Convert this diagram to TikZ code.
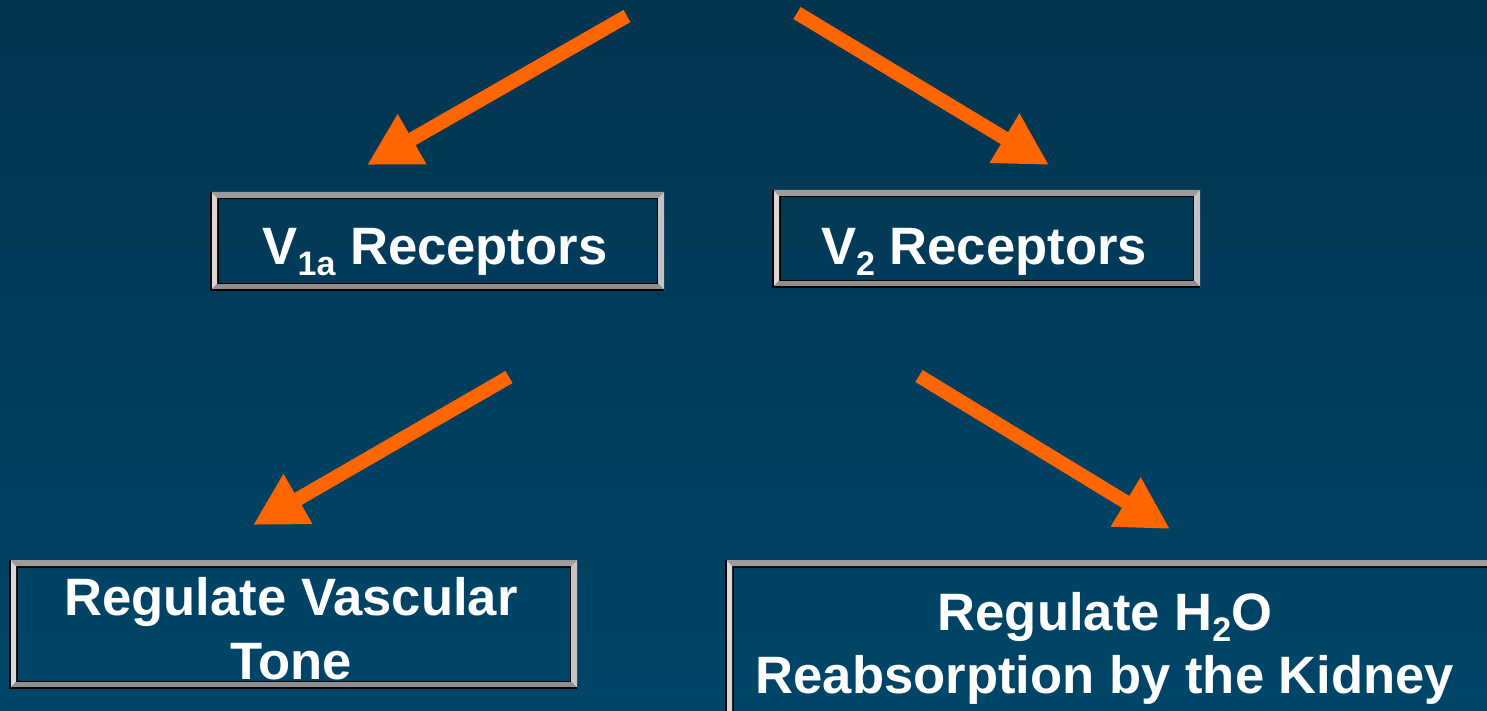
\documentclass[tikz,border=0pt]{standalone}
\usepackage{fontspec}
\setmainfont{Liberation Sans}
\usetikzlibrary{arrows.meta,calc}
\definecolor{bgtop}{RGB}{3,52,80}
\definecolor{bgmid}{RGB}{0,78,116}
\definecolor{bgbot}{RGB}{0,70,104}
\definecolor{arrorange}{RGB}{255,102,0}
\definecolor{bevT}{RGB}{156,156,156}
\definecolor{bevL}{RGB}{216,216,216}
\definecolor{bevR}{RGB}{196,196,196}
\definecolor{bevB}{RGB}{143,143,143}
\newcommand\lowsub[1]{\raisebox{-11pt}{\fontsize{34}{34}\selectfont #1}}
\newcommand\bevelframe[1]{%
 \fill[bevT] ($(#1.north west)+(-6,-6)$) -- ($(#1.north east)+(6,-6)$) -- (#1.north east) -- (#1.north west) -- cycle;
 \fill[bevL] ($(#1.north west)+(-6,-6)$) -- (#1.north west) -- (#1.south west) -- ($(#1.south west)+(-6,6)$) -- cycle;
 \fill[bevR] ($(#1.north east)+(6,-6)$) -- ($(#1.south east)+(6,6)$) -- (#1.south east) -- (#1.north east) -- cycle;
 \fill[bevB] ($(#1.south west)+(-6,6)$) -- ($(#1.south east)+(6,6)$) -- (#1.south east) -- (#1.south west) -- cycle;
 \draw[black,line width=1.5pt] ($(#1.north west)+(-6,-6)$) -- ($(#1.south west)+(-6,6)$) -- ($(#1.south east)+(6,6)$);
}
\begin{document}
\begin{tikzpicture}[x=1pt,y=-1pt,
  box/.style={draw=black,line width=3pt,inner sep=0pt,outer sep=0pt},
  lbl/.style={text=white,inner sep=0pt,anchor=base,font=\bfseries\fontsize{52.6}{64}\selectfont},
  arr/.style={draw=arrorange,line width=14pt,-{Triangle[length=52pt,width=54pt]}}]
\useasboundingbox (0,0) rectangle (1487,711);
\clip (0,0) rectangle (1487,711);
\shade[top color=bgtop, middle color=bgmid, bottom color=bgbot] (0,0) rectangle (1487,711);
% boxes
\node[box,minimum width=441pt,minimum height=86pt] (b1) at (437.5,241) {};
\node[box,minimum width=415pt,minimum height=85pt] (b2) at (986.5,238.5) {};
\node[box,minimum width=555pt,minimum height=116pt] (b3) at (293.5,624) {};
\node[box,minimum width=761pt,minimum height=151pt] (b4) at (1112.5,641.5) {};
\bevelframe{b1}
\bevelframe{b2}
\bevelframe{b3}
\bevelframe{b4}
% labels
\node[lbl] (t1) at (435,265) {V\lowsub{1a} Receptors};
\node[lbl] (t2) at (984,265) {V\lowsub{2} Receptors};
\node[lbl] (t3a) at (291,615) {Regulate Vascular};
\node[lbl] (t3b) at (291,679) {Tone};
\node[lbl] (t4a) at (1105,630) {Regulate H\lowsub{2}O};
\node[lbl] (t4b) at (1105,693) {Reabsorption by the Kidney};
% arrows
\coordinate (a1s) at (627,16);
\coordinate (a1e) at (367,165);
\coordinate (a2s) at (797,13);
\coordinate (a2e) at (1049,165);
\coordinate (a3s) at (509,377);
\coordinate (a3e) at (253,525);
\coordinate (a4s) at (919,376);
\coordinate (a4e) at (1170,529);
\draw[arr] (a1s) -- (a1e);
\draw[arr] (a2s) -- (a2e);
\draw[arr] (a3s) -- (a3e);
\draw[arr] (a4s) -- (a4e);
\end{tikzpicture}
\end{document}
